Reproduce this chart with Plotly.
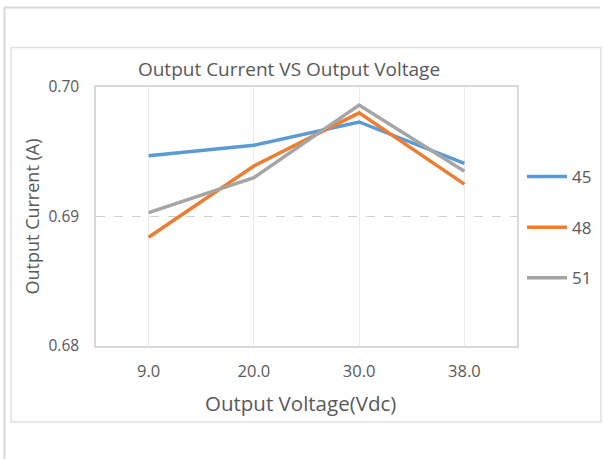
import plotly.graph_objects as go

categories = ["9.0", "20.0", "30.0", "38.0"]
series_names = ["45", "48", "51"]
vals_45 = [0.6947, 0.6955, 0.6973, 0.6941]
vals_48 = [0.6884, 0.6939, 0.6980, 0.6925]
vals_51 = [0.6903, 0.6930, 0.6986, 0.6935]
y_ticks = [0.68, 0.69, 0.70]
y_tick_text = ["0.68", "0.69", "0.70"]
colors = ["#5b9bd5", "#ed7d31", "#a5a5a5"]

W, H = 603, 459
L, R, T, B = 96, 517, 87, 346

fig = go.Figure()
for name, vals, col in zip(series_names, [vals_45, vals_48, vals_51], colors):
    fig.add_trace(go.Scatter(x=categories, y=vals, mode="lines", name=name,
                             legendgroup=name,
                             line=dict(color=col, width=3.5)))

font_family = "Open Sans, Segoe UI, sans-serif"
grey = "#595959"


def fx(px):
    return (px - L) / (R - L)


def fy(py):
    return (B - py) / (B - T)


fig.update_layout(
    width=W, height=H,
    margin=dict(l=L, r=W - R, t=T, b=H - B, autoexpand=False),
    paper_bgcolor="white", plot_bgcolor="white",
    font=dict(family=font_family, color=grey),
    title=dict(text="Output Current VS Output Voltage", x=289 / W, xanchor="center",
               y=1 - 69 / H, yanchor="middle",
               font=dict(size=19, color=grey, family=font_family)),
    showlegend=True,
    legend=dict(x=fx(522), xanchor="left", y=fy(159), yanchor="top",
                font=dict(size=17, color=grey), tracegroupgap=25.5,
                bgcolor="rgba(0,0,0,0)", itemwidth=40),
    xaxis=dict(type="category", showgrid=True, gridcolor="#ebebeb", gridwidth=1,
               showline=True, linecolor="#d9d9d9", linewidth=1.5, mirror=True,
               ticks="", tickfont=dict(size=16.5, color=grey), ticklabelstandoff=9,
               zeroline=False, range=[-0.5, 3.5]),
    yaxis=dict(range=[0.68, 0.70], tickvals=y_ticks, ticktext=y_tick_text,
               showgrid=True, gridcolor="#d0d0d0", griddash="dash", gridwidth=1,
               showline=True, linecolor="#d9d9d9", linewidth=1.5, mirror=True,
               ticks="", tickfont=dict(size=15.5, color=grey), ticklabelstandoff=12,
               title=dict(text="Output Current (A)", font=dict(size=18, color=grey), standoff=4),
               zeroline=False),
    annotations=[
        dict(text="Output Voltage(Vdc)", xref="paper", yref="paper", x=fx(300), y=fy(403),
             xanchor="center", yanchor="middle", showarrow=False,
             font=dict(size=20.5, color=grey, family=font_family)),
    ],
    shapes=[
        # outer screenshot frame
        dict(type="line", xref="paper", yref="paper", x0=fx(4.5), x1=fx(600),
             y0=fy(7.5), y1=fy(7.5), line=dict(color="#d9d9d9", width=2)),
        dict(type="line", xref="paper", yref="paper", x0=fx(4.5), x1=fx(4.5),
             y0=fy(7.5), y1=fy(459), line=dict(color="#d9d9d9", width=2)),
        # inner chart box
        dict(type="rect", xref="paper", yref="paper", x0=fx(11), x1=fx(601),
             y0=fy(47.5), y1=fy(422), line=dict(color="#e0e0e0", width=1.5),
             fillcolor="rgba(0,0,0,0)"),
    ],
)

fig.write_html("out.html", config={"displayModeBar": False},
               post_script="document.body.style.margin='0';")
